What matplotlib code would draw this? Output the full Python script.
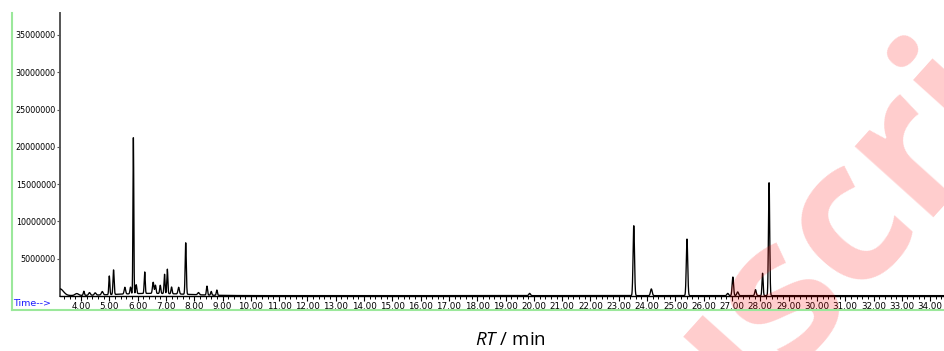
import numpy as np
import matplotlib
matplotlib.use("Agg")
import matplotlib.pyplot as plt
from matplotlib.lines import Line2D
from matplotlib.transforms import IdentityTransform
from matplotlib.ticker import MultipleLocator, FixedLocator, FuncFormatter

# Peak table of the total ion chromatogram: retention time (min), apex abundance, peak sigma (min)
peak_rt = [3.26, 3.85, 4.10, 4.30, 4.50, 4.75, 5.00, 5.15, 5.55, 5.75, 5.85, 5.95,
           6.25, 6.55, 6.63, 6.80, 6.95, 7.05, 7.20, 7.45, 7.70, 8.15, 8.45, 8.60,
           8.80, 19.85, 23.53, 24.15, 25.41, 26.85, 27.03, 27.20, 27.83, 28.08, 28.31]
peak_abund = [0.9e6, 0.25e6, 0.55e6, 0.35e6, 0.30e6, 0.45e6, 2.5e6, 3.3e6, 0.9e6, 0.9e6, 21.1e6, 1.2e6,
              2.9e6, 1.5e6, 1.1e6, 1.1e6, 2.6e6, 3.3e6, 0.9e6, 0.9e6, 6.9e6, 0.3e6, 1.2e6, 0.5e6,
              0.7e6, 0.3e6, 9.4e6, 0.9e6, 7.6e6, 0.3e6, 2.5e6, 0.5e6, 0.8e6, 3.0e6, 15.2e6]
peak_sigma = [0.12, 0.06, 0.02, 0.03, 0.03, 0.03, 0.018, 0.02, 0.025, 0.02, 0.015, 0.02,
              0.018, 0.025, 0.02, 0.02, 0.018, 0.018, 0.02, 0.025, 0.02, 0.03, 0.02, 0.02,
              0.02, 0.03, 0.025, 0.03, 0.025, 0.03, 0.025, 0.03, 0.025, 0.02, 0.022]

# Broad solvent/matrix hump under the early eluting region
hump_rt = [6.5]
hump_abund = [0.3e6]
hump_sigma = [1.2]
baseline_level = 0.05e6

y_ticks = [5000000, 10000000, 15000000, 20000000, 25000000, 30000000, 35000000]
x_major = list(range(4, 35))

rt = np.arange(3.26, 34.6, 0.004)
signal = np.full_like(rt, baseline_level)
for c, h, s in zip(peak_rt + hump_rt, peak_abund + hump_abund, peak_sigma + hump_sigma):
    signal += h * np.exp(-0.5 * ((rt - c) / s) ** 2)

plt.rcParams['mathtext.fontset'] = 'custom'
plt.rcParams['mathtext.it'] = 'Open Sans:italic'
plt.rcParams['mathtext.rm'] = 'Open Sans'

W, H = 944, 351
fig = plt.figure(figsize=(W / 100, H / 100), dpi=100)
renderer = fig.canvas.get_renderer()

# Watermark behind the chart, placed so that its "s" sits at a chosen pixel spot
wm_word, wm_prefix, wm_size, wm_angle = "Manuscript", "Manu", 140, 48
wm_style = dict(fontsize=wm_size, fontweight='bold', family='Open Sans')
probe = fig.text(0, 0, wm_prefix, **wm_style)
w_prefix = probe.get_window_extent(renderer).width
probe.set_text("s")
w_s = probe.get_window_extent(renderer).width
probe.remove()
th = np.deg2rad(wm_angle)
u = np.array([np.cos(th), np.sin(th)])
v = np.array([-np.sin(th), np.cos(th)])
s_center = np.array([780.0, H - 290.0])
xh = 0.54 * wm_size * 100 / 72
anchor = s_center - (w_s / 2) * u - (xh / 2) * v - w_prefix * u
fig.text(anchor[0], anchor[1], wm_word, transform=IdentityTransform(), color='#ff0000',
         alpha=0.2, rotation=wm_angle, rotation_mode='anchor', ha='left', va='baseline',
         zorder=0, **wm_style)

ax = fig.add_axes([60 / W, 1 - 296 / H, (W - 60) / W, (296 - 13) / H])
ax.patch.set_alpha(0)
ax.plot(rt, signal, color='black', lw=0.95, zorder=3)
ax.set_xlim(3.258, 34.49)
ax.set_ylim(0, 37.95e6)

for side in ('top', 'right'):
    ax.spines[side].set_visible(False)
ax.spines['left'].set_color('#555555')
ax.spines['left'].set_linewidth(1.4)
ax.spines['bottom'].set_color('black')
ax.spines['bottom'].set_linewidth(1.0)

tick_family = ['Liberation Sans Narrow', 'DejaVu Sans']
ax.xaxis.set_major_locator(FixedLocator(x_major))
ax.xaxis.set_minor_locator(MultipleLocator(0.2))
ax.xaxis.set_major_formatter(FuncFormatter(lambda val, pos: f"{val:.2f}"))
ax.yaxis.set_major_locator(FixedLocator(y_ticks))
ax.yaxis.set_major_formatter(FuncFormatter(lambda val, pos: f"{int(val)}"))
ax.tick_params(axis='x', which='major', length=3.5, width=0.8, pad=1, direction='out')
ax.tick_params(axis='x', which='minor', length=2.0, width=0.7, direction='out')
ax.tick_params(axis='y', which='major', length=2.0, width=0.8, pad=1, color='#555555')
for lab in ax.get_xticklabels() + ax.get_yticklabels():
    lab.set_fontfamily(tick_family)
    lab.set_fontsize(6.3)
for lab in ax.get_yticklabels():
    lab.set_fontsize(5.8)

# Light green frame on the left and bottom
green = '#9be89b'
fig.add_artist(Line2D([11.5 / W, 11.5 / W], [1 - 13 / H, 1 - 310 / H], color=green, lw=1.5))
fig.add_artist(Line2D([11.5 / W, 1.0], [1 - 310 / H, 1 - 310 / H], color=green, lw=1.5))

fig.text(13 / W, 1 - 304 / H, "Time-->", color='#1a1aff', fontsize=6.8,
         family=tick_family, ha='left', va='center')

fig.text(510 / W, 1 - 340 / H, r"$\mathit{RT}$ / min", fontsize=13.5, family='Open Sans',
         ha='center', va='center')

fig.savefig("out.png", dpi=100)
